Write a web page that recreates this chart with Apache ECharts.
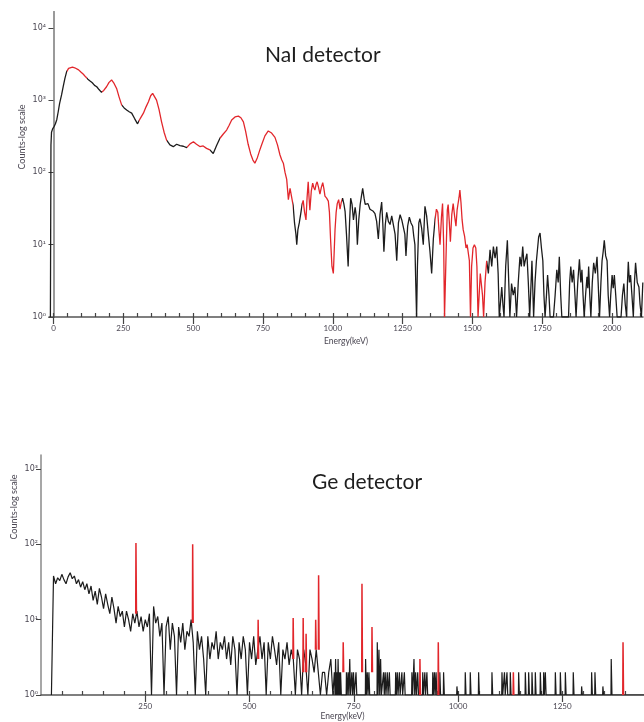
<!DOCTYPE html>
<html>
<head>
<meta charset="utf-8">
<script src="https://cdn.jsdelivr.net/npm/echarts@6/dist/echarts.min.js"></script>
<style>
html,body{margin:0;padding:0;background:#fff;}
#chart{width:644px;height:722px;}
</style>
</head>
<body>
<div id="chart"></div>
<script>
// ---------------- NaI detector spectrum (energy keV, counts) ----------------
const nalEnergy = [
-11,-9,-7,-3,2,7,12,17,22,29,
35,41,47,54,61,68,76,83,90,98,
107,115,123,131,139,147,155,163,172,180,
190,199,208,217,226,235,244,253,262,271,
280,290,301,311,322,331,340,348,355,362,
369,378,387,396,405,417,429,441,453,465,
477,489,501,512,524,536,548,560,572,584,
596,608,620,629,638,650,662,671,680,688,
697,706,714,721,730,738,745,757,769,781,
793,802,811,817,823,829,835,841,847,853,
858,863,868,871,875,880,886,890,894,899,
904,908,912,915,918,923,928,932,936,940,
944,949,954,959,964,968,972,978,984,988,
992,997,1002,1005,1008,1012,1016,1021,1026,1030,
1035,1040,1044,1049,1055,1060,1064,1069,1074,1080,
1084,1088,1093,1098,1103,1107,1112,1116,1120,1126,
1133,1139,1145,1151,1157,1163,1169,1175,1179,1183,
1188,1193,1199,1205,1211,1217,1223,1229,1235,1241,
1247,1253,1258,1262,1268,1274,1280,1286,1290,1294,
1297,1300,1303,1308,1312,1318,1324,1330,1336,1342,
1348,1354,1360,1366,1371,1376,1380,1384,1389,1393,
1397,1400,1404,1407,1410,1413,1417,1421,1426,1431,
1436,1441,1445,1448,1452,1455,1459,1463,1467,1472,
1477,1481,1485,1489,1493,1497,1502,1507,1512,1516,
1520,1524,1528,1532,1536,1540,1545,1551,1557,1563,
1569,1575,1581,1587,1592,1596,1605,1609,1613,1619,
1625,1630,1634,1640,1646,1652,1658,1664,1670,1675,
1680,1685,1689,1695,1700,1705,1713,1719,1724,1729,
1737,1742,1747,1752,1756,1760,1765,1769,1774,1778,
1790,1796,1802,1807,1811,1816,1820,1832,1844,1848,
1852,1857,1862,1867,1871,1877,1883,1888,1892,1896,
1900,1905,1910,1913,1916,1920,1924,1929,1934,1940,
1946,1950,1955,1960,1964,1968,1972,1977,1982,1986,
1991,1995,2000,2004,2008,2013,2018,2032,2037,2042,
2047,2052,2055,2058,2062,2066,2071,2076,2080,2084,
2090,2096,2100,2105,2110
];
const nalCounts = [
1,240,360,400,430,470,540,690,900,1180,
1550,2000,2460,2750,2900,2850,2800,2770,2620,2450,
2280,2100,1950,1840,1740,1600,1530,1400,1280,1360,
1530,1760,1900,1700,1450,1100,860,780,730,690,
660,560,470,560,660,800,950,1150,1240,1180,
1000,740,500,360,280,240,227,245,234,230,
220,248,265,245,228,232,215,205,183,235,
297,340,385,450,530,585,600,570,500,370,
245,180,148,134,160,200,240,320,374,350,
305,240,174,150,134,100,80,42,60,57,
35,20,14,10,16,20,28,36,41,28,
22,45,74,45,30,55,71,62,57,68,
74,62,50,62,72,60,47,44,40,28,
12,5,4,8,16,28,37,42,31,38,
44,36,29,14,5,20,44,36,22,33,
25,10,22,36,48,60,44,36,34,37,
31,33,29,27,21,12,26,39,20,8,
19,28,21,19,25,24,14,6,20,26,
22,21,14,7,18,24,20,18,13,10,
3,1,5,20,23,17,10,34,25,14,
8,4,12,22,31,28,16,10,24,37,
10,1,1,12,30,36,21,11,26,37,
25,18,30,36,45,57,38,22,16,13,
9,10,10,6,1,5,9,10,9,5,
1,2,4,4,2,1,3,6,4,8.5,
5,9.4,6.5,9.4,4,1,2.6,1.5,1,5,
11.5,3,1,2.9,2,2.6,1,3,6.8,5,
9.4,5,6,7.5,3,1,6,1,3,6,
12.8,14.5,9,6,2,1,2,3.8,2,1,
1,2,4.5,3,6.8,2,1,1,1,3,
5,3,4.5,2,1,3,6.3,3,4.5,2,
1,2,3.6,2.5,5,2,1,3,5.6,4,
6.8,3,1,3,6,8,11.5,7,6,2,
1,2,3.8,2.5,3.8,2,1,1,2,2.9,
1.5,1,3,5.8,3,3.8,2,1,3,5.6,
3,2.6,1.5,1,3
];
// energy ranges (keV) drawn in red on the NaI curve
const nalRedRanges = [[47,119],[172,244],[305,405],[477,560],[596,859],[889,1032],[1367,1551]];
const nalTickValues = [0,250,500,750,1000,1250,1500,1750,2000];

// ---------------- Ge detector spectrum ----------------
const geGridStart = 25, geGridStep = 5;
const geGridCounts = [
1,38,30,36,33,40,34,30,37,42,
35,38,30,34,27,32,25,30,22,28,
18,24,16,26,20,14,22,16,12,20,
14,9,15,11,13,8,13,10,7,12,
9,13,8,11,7,10,8,12,1,15,
9,11,6,9,1,8,11,4,9,6,
1,8,5,9,4,7,6,10,5,1,
7,4,6,3,1,6,3,5,4,7,
3,5,4,6,3,5,2.5,6,4,1,
5,3,6,4,1,5,3,6,2.5,4,
6,3,5,1,5,3,6,4,2.5,5,
1,4,3,5,2.5,4,3,1,4,3,
1,4,2.5,1,4,3,2,4,2,1,
2,2,1,2,3,1
];
const geSpikeE = [704,707,710,713,716,719,733,737,741,746,750,756,779,783,787,807,811,815,822,826,831,836,851,855,860,866,872,890,895,899,904,916,921,926,940,944,948,957,
966,998,1018,1030,1050,1082,1106,1112,1118,1126,1146,1162,1170,1178,1186,1198,1206,1210,1234,1246,1258,1277,1297,1321,1329,1348,1368];
const geSpikeC = [2,3,2,3,2,2,2,2,3,2,2,2,3,2,2,5,4,3,2,2,2,2,2,2,2,2,2,2,3,2,2,2,2,2,2,2,2,2,
2,1.3,2,2,2,2,2,2,2,2,2,2,2,2,2,2,2,2,2,2,2,2,1.3,2,2,1.3,3];
const geRedE    = [228,364,521,605,629,636,659,666,725,770,794,909,953,1133,1396];
const geRedC    = [104,100,10,10.5,10.5,6.5,10,39,5,30,8,3,5,2,5];
const geRedBase = [12,9,3,3,2,2,4,4,2,2,2,1,1,1,1];
const geTickValues = [250,500,750,1000,1250];

// ---------------- build series data ----------------
const RED = '#e2262b', BLACK = '#1c1c1c';
const nalData = nalEnergy.map((e,i)=>[e, nalCounts[i]]);

const nalPieces = [];
let cur = -20;
nalRedRanges.forEach(r=>{
  nalPieces.push({gte:cur, lt:r[0], color:BLACK});
  nalPieces.push({gte:r[0], lt:r[1], color:RED});
  cur = r[1];
});
nalPieces.push({gte:cur, lte:2200, color:BLACK});

const geBlack = [];
geGridCounts.forEach((c,i)=>geBlack.push([geGridStart+i*geGridStep, c]));
geSpikeE.forEach((e,i)=>{
  const h = geSpikeC[i];
  geBlack.push([e-1.2,1],[e-0.6,h],[e+0.6,h],[e+1.2,1]);
});
geBlack.push([1446,1]);
geBlack.sort((a,b)=>a[0]-b[0]);

const geRed = [];
geRedE.forEach((e,i)=>{
  geRed.push([e-0.9,geRedBase[i]],[e-0.3,geRedC[i]],[e+0.3,geRedC[i]],[e+0.9,geRedBase[i]],[e+1,'-']);
});

const sup = ['\u2070','\u00b9','\u00b2','\u00b3','\u2074'];
const logFmt = v => '10' + sup[Math.round(Math.log10(v))];
const plainFmt = v => String(Math.round(v));
const range = (a,b,s)=>{const r=[];for(let v=a;v<=b;v+=s)r.push(v);return r;};

const labelColor = '#4a4652';
const FONT = 'Lato, "DejaVu Sans", sans-serif';

const chart = echarts.init(document.getElementById('chart'), null, {renderer:'canvas'});
chart.setOption({
  animation:false,
  backgroundColor:'#fff',
  grid:[
    {left:49, top:12, width:594, height:305},
    {left:41, top:455, width:603, height:240}
  ],
  xAxis:[
    {gridIndex:0, type:'value', min:-16, max:2110.6, position:'bottom',
     axisLine:{show:true, onZero:false, lineStyle:{color:'#555', width:1.5}},
     axisTick:{show:true, customValues:nalTickValues, length:7, inside:false, lineStyle:{color:'#444', width:1.2}},
     axisLabel:{customValues:nalTickValues, formatter:plainFmt, fontSize:8, color:labelColor, margin:7, fontFamily:FONT},
     splitLine:{show:false},
     name:'Energy(keV)', nameLocation:'middle', nameGap:20,
     nameTextStyle:{fontSize:8.5, color:'#4a4652', fontFamily:FONT}},
    {gridIndex:0, type:'value', min:-16, max:2110.6, position:'bottom',
     axisLine:{show:false}, axisLabel:{show:false}, splitLine:{show:false},
     axisTick:{show:true, customValues:range(0,2100,50), inside:true, length:4, lineStyle:{color:'#444', width:1.2}}},
    {gridIndex:1, type:'value', min:0, max:1446, position:'bottom',
     axisLine:{show:true, onZero:false, lineStyle:{color:'#555', width:1.5}},
     axisTick:{show:true, customValues:geTickValues, length:7, inside:false, lineStyle:{color:'#444', width:1.2}},
     axisLabel:{customValues:geTickValues, formatter:plainFmt, fontSize:8, color:labelColor, margin:7, fontFamily:FONT},
     splitLine:{show:false},
     name:'Energy(keV)', nameLocation:'middle', nameGap:17,
     nameTextStyle:{fontSize:8.5, color:'#4a4652', fontFamily:FONT}},
    {gridIndex:1, type:'value', min:0, max:1446, position:'bottom',
     axisLine:{show:false}, axisLabel:{show:false}, splitLine:{show:false},
     axisTick:{show:true, customValues:range(50,1400,50), inside:true, length:4, lineStyle:{color:'#444', width:1.2}}}
  ],
  yAxis:[
    {gridIndex:0, type:'log', logBase:10, min:1, max:16545,
     axisLine:{show:true, lineStyle:{color:'#8a8a8a', width:2}},
     axisTick:{show:true, customValues:[1,10,100,1000,10000], length:5, lineStyle:{color:'#444'}},
     axisLabel:{customValues:[1,10,100,1000,10000], formatter:logFmt, fontSize:8, color:labelColor, margin:3, fontFamily:'"DejaVu Sans", sans-serif'},
     splitLine:{show:false}},
    {gridIndex:0, type:'value', position:'right', min:0, max:1,
     axisLine:{show:true, lineStyle:{color:'#9a9a9a', width:2}},
     axisTick:{show:false}, axisLabel:{show:false}, splitLine:{show:false}},
    {gridIndex:1, type:'log', logBase:10, min:1, max:1535,
     axisLine:{show:true, lineStyle:{color:'#8a8a8a', width:1.5}},
     axisTick:{show:true, customValues:[1,10,100,1000], length:5, lineStyle:{color:'#444'}},
     axisLabel:{customValues:[1,10,100,1000], formatter:logFmt, fontSize:8, color:labelColor, margin:3, fontFamily:'"DejaVu Sans", sans-serif'},
     splitLine:{show:false}}
  ],
  visualMap:[
    {type:'piecewise', show:false, dimension:0, seriesIndex:0, pieces:nalPieces}
  ],
  series:[
    {type:'line', xAxisIndex:0, yAxisIndex:0, data:nalData, showSymbol:false, symbol:'none',
     lineStyle:{width:1.3}, clip:true},
    {type:'line', xAxisIndex:2, yAxisIndex:2, data:geBlack, showSymbol:false, symbol:'none',
     lineStyle:{width:1.2, color:BLACK}, itemStyle:{color:BLACK}, clip:true},
    {type:'line', xAxisIndex:2, yAxisIndex:2, data:geRed, showSymbol:false, symbol:'none', connectNulls:false,
     lineStyle:{width:1.5, color:RED}, itemStyle:{color:RED}, clip:true}
  ],
  graphic:[
    {type:'text', left:265, top:45, style:{text:'NaI detector', fontSize:21, fill:'#1e1e1e', fontFamily:FONT}},
    {type:'text', left:312, top:472, style:{text:'Ge detector', fontSize:21, fill:'#1e1e1e', fontFamily:FONT}},
    {type:'text', x:22, y:137, rotation:Math.PI/2, style:{text:'Counts-log scale', fontSize:9, fill:'#4a4652', fontFamily:FONT, align:'center', verticalAlign:'middle'}},
    {type:'text', x:14, y:507, rotation:Math.PI/2, style:{text:'Counts-log scale', fontSize:9, fill:'#4a4652', fontFamily:FONT, align:'center', verticalAlign:'middle'}}
  ]
});
</script>
</body>
</html>
